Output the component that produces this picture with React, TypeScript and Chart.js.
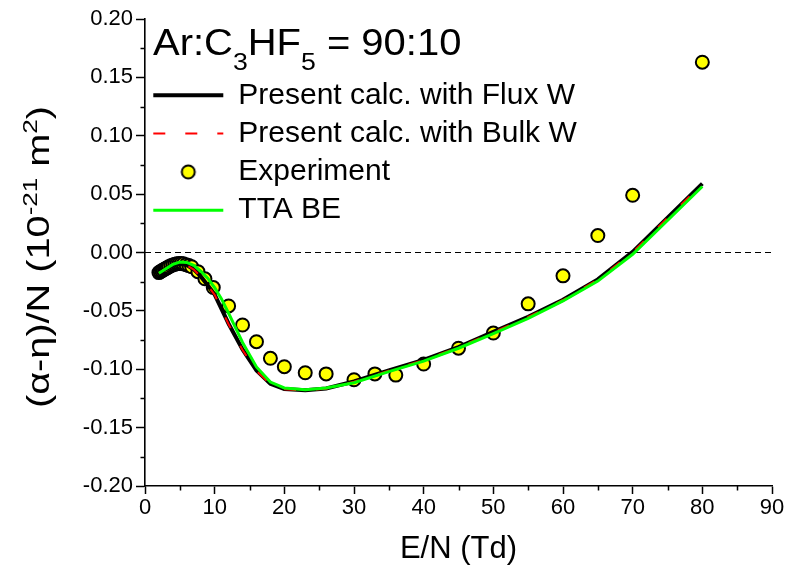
import React, { useEffect, useRef } from 'react';
import { Chart, registerables } from 'chart.js';

Chart.register(...registerables);

// ---- data ----
const calcEN = [2, 3, 4, 5, 6, 7, 8, 9, 10, 12, 14, 16, 18, 20, 23, 26, 30, 35, 40, 45, 50, 55, 60, 65, 70, 80];
const fluxW = [-0.0175, -0.0135, -0.0108, -0.0098, -0.0108, -0.0145, -0.0205, -0.028, -0.036, -0.061, -0.083, -0.101, -0.1125, -0.117, -0.118, -0.1165, -0.1105, -0.101, -0.092, -0.081, -0.068, -0.055, -0.0405, -0.023, 0.0005, 0.059];
const bulkW = [-0.0176, -0.0137, -0.011, -0.01, -0.011, -0.0147, -0.0207, -0.0283, -0.0363, -0.0615, -0.0835, -0.1015, -0.113, -0.1172, -0.1182, -0.1167, -0.1107, -0.1012, -0.0922, -0.0812, -0.0682, -0.0552, -0.0407, -0.0232, 0.0003, 0.0588];

const ttaEN = [2, 3, 4, 5, 6, 7, 8, 9, 10, 11, 12, 14, 16, 18, 20, 23, 26, 30, 35, 40, 45, 50, 55, 60, 65, 70, 80];
const ttaBE = [-0.0178, -0.014, -0.0102, -0.0082, -0.0085, -0.011, -0.016, -0.022, -0.03, -0.04, -0.052, -0.077, -0.098, -0.111, -0.116, -0.1175, -0.116, -0.1115, -0.102, -0.093, -0.082, -0.0695, -0.0565, -0.0415, -0.0245, -0.0015, 0.0565];

const expEN = [2.0, 2.2, 2.4, 2.6, 2.8, 3.0, 3.2, 3.4, 3.7, 4.0, 4.3, 4.6, 4.9, 5.2, 5.5, 5.9, 6.3, 6.7, 7.6, 8.6, 9.8, 12, 14, 16, 18, 20, 23, 26, 30, 33, 36, 40, 45, 50, 55, 60, 65, 70, 80];
const expVal = [-0.0172, -0.0165, -0.0157, -0.015, -0.0143, -0.0136, -0.013, -0.0123, -0.0114, -0.0106, -0.01, -0.0096, -0.0094, -0.0094, -0.0097, -0.0104, -0.0112, -0.0122, -0.0164, -0.0225, -0.03, -0.0458, -0.0621, -0.0764, -0.0906, -0.0978, -0.103, -0.104, -0.109, -0.104, -0.105, -0.0955, -0.082, -0.069, -0.044, -0.02, 0.0145, 0.049, 0.163];

const zeroEN = [0, 90];
const zeroVal = [0, 0];

const seriesNames = ['Present calc. with Flux W', 'Present calc. with Bulk W', 'Experiment', 'TTA BE'];

const FONT = "'Liberation Sans', Arial, sans-serif";

const toXY = (xs: number[], ys: number[]) => xs.map((x, i) => ({ x, y: ys[i] }));

function makeExpIcon() {
  const c = document.createElement('canvas');
  c.width = 18;
  c.height = 18;
  const g = c.getContext('2d')!;
  g.beginPath();
  g.arc(9, 9, 6.5, 0, Math.PI * 2);
  g.fillStyle = '#ffff00';
  g.fill();
  g.lineWidth = 2;
  g.strokeStyle = '#000';
  g.stroke();
  return c;
}

const decorPlugin = {
  id: 'decor',
  afterDraw(chart: any) {
    const ctx = chart.ctx as CanvasRenderingContext2D;
    const xs = chart.scales.x;
    const ys = chart.scales.y;
    const area = chart.chartArea;
    ctx.save();
    // minor ticks
    ctx.strokeStyle = '#000';
    ctx.lineWidth = 1.5;
    ctx.beginPath();
    for (let v = 5; v < 90; v += 10) {
      const px = Math.round(xs.getPixelForValue(v)) + 0.5;
      ctx.moveTo(px, area.bottom);
      ctx.lineTo(px, area.bottom + 4.5);
    }
    for (let k = 0; k < 8; k++) {
      const v = -0.175 + k * 0.05;
      const py = Math.round(ys.getPixelForValue(v)) + 0.5;
      ctx.moveTo(area.left, py);
      ctx.lineTo(area.left - 4.5, py);
    }
    ctx.stroke();

    // title with subscripts
    ctx.fillStyle = '#000';
    ctx.textBaseline = 'alphabetic';
    ctx.textAlign = 'left';
    ctx.save();
    ctx.translate(153, 55);
    ctx.scale(1.11, 1);
    const mainF = `36px ${FONT}`;
    const subF = `24px ${FONT}`;
    const parts: [string, boolean][] = [['Ar:C', false], ['3', true], ['HF', false], ['5', true], [' = 90:10', false]];
    let x = 0;
    for (const [t, sub] of parts) {
      ctx.font = sub ? subF : mainF;
      ctx.fillText(t, x, sub ? 15 : 0);
      x += ctx.measureText(t).width;
    }
    ctx.restore();

    // y axis title with superscripts
    const yParts: [string, boolean][] = [['(\u03B1-\u03B7)/N (10', false], ['-21', true], [' m', false], ['2', true], [')', false]];
    const yMain = `32px ${FONT}`;
    const ySup = `21px ${FONT}`;
    let total = 0;
    for (const [t, sup] of yParts) {
      ctx.font = sup ? ySup : yMain;
      total += ctx.measureText(t).width;
    }
    ctx.translate(49, 257);
    ctx.rotate(-Math.PI / 2);
    ctx.scale(1.24, 1);
    let tx = -total / 2;
    for (const [t, sup] of yParts) {
      ctx.font = sup ? ySup : yMain;
      ctx.fillText(t, tx, sup ? -12 : 0);
      tx += ctx.measureText(t).width;
    }
    ctx.restore();
  },
};

export default function App() {
  const ref = useRef<HTMLCanvasElement | null>(null);

  useEffect(() => {
    if (!ref.current) return;
    const expIcon = makeExpIcon();
    const legendStyle: Record<number, any> = {
      0: { pointStyle: 'line', lineWidth: 4, strokeStyle: '#000000', lineDash: [] },
      1: { pointStyle: 'line', lineWidth: 2, strokeStyle: '#ff0000', lineDash: [12, 20] },
      2: { pointStyle: expIcon, lineWidth: 0, lineDash: [] },
      3: { pointStyle: 'line', lineWidth: 3, strokeStyle: '#00ff00', lineDash: [] },
    };
    const chart = new Chart(ref.current, {
      type: 'scatter',
      data: {
        datasets: [
          {
            label: seriesNames[0],
            data: toXY(calcEN, fluxW),
            showLine: true,
            borderColor: '#000000',
            backgroundColor: '#000000',
            borderWidth: 4,
            pointRadius: 0,
            tension: 0,
            order: 2,
          },
          {
            label: seriesNames[1],
            data: toXY(calcEN, bulkW),
            showLine: true,
            borderColor: '#ff0000',
            backgroundColor: '#ff0000',
            borderWidth: 2,
            borderDash: [12, 20],
            pointRadius: 0,
            tension: 0,
            order: 1,
          },
          {
            label: seriesNames[2],
            data: toXY(expEN, expVal),
            showLine: false,
            pointRadius: 6.5,
            pointBorderWidth: 2,
            borderColor: '#000000',
            backgroundColor: '#ffff00',
            pointBackgroundColor: '#ffff00',
            pointBorderColor: '#000000',
            order: 3,
          },
          {
            label: seriesNames[3],
            data: toXY(ttaEN, ttaBE),
            showLine: true,
            borderColor: '#00ff00',
            backgroundColor: '#00ff00',
            borderWidth: 3,
            pointRadius: 0,
            tension: 0,
            order: 0,
          },
          {
            label: 'zero',
            data: toXY(zeroEN, zeroVal),
            showLine: true,
            borderColor: '#000000',
            borderWidth: 1,
            borderDash: [6, 4],
            pointRadius: 0,
            order: 5,
          },
        ],
      } as any,
      options: {
        animation: false,
        responsive: false,
        maintainAspectRatio: false,
        events: [],
        layout: { padding: { top: 19, right: 19, left: 0, bottom: 0 } },
        font: { family: FONT },
        scales: {
          x: {
            type: 'linear',
            min: 0,
            max: 90,
            ticks: {
              stepSize: 10,
              color: '#000',
              font: { family: FONT, size: 22 },
              padding: 1,
              maxRotation: 0,
              autoSkip: false,
            },
            grid: {
              display: true,
              drawOnChartArea: false,
              drawTicks: true,
              tickLength: 8,
              tickWidth: 1.5,
              tickColor: '#000',
            },
            border: { display: true, color: '#000', width: 1.6 },
            title: {
              display: true,
              text: 'E/N (Td)',
              color: '#000',
              font: { family: FONT, size: 31 },
              padding: { top: 0, bottom: 11 },
            },
            afterFit: (s: any) => {
              s.height = 93;
            },
          },
          y: {
            type: 'linear',
            min: -0.2,
            max: 0.2,
            ticks: {
              stepSize: 0.05,
              color: '#000',
              font: { family: FONT, size: 22 },
              padding: 3,
              callback: (v: any) => Number(v).toFixed(2),
            },
            grid: {
              display: true,
              drawOnChartArea: false,
              drawTicks: true,
              tickLength: 9,
              tickWidth: 1.5,
              tickColor: '#000',
            },
            border: { display: true, color: '#000', width: 1.6 },
            afterFit: (s: any) => {
              s.width = 145;
            },
          },
        },
        plugins: {
          tooltip: { enabled: false },
          title: { display: false },
          legend: {
            display: true,
            position: 'chartArea',
            align: 'start',
            title: {
              display: true,
              text: ' ',
              font: { family: FONT, size: 20, lineHeight: 1 },
              padding: { top: 52, bottom: 0 },
            },
            labels: {
              usePointStyle: true,
              pointStyleWidth: 70,
              padding: 8.3,
              color: '#000',
              font: { family: FONT, size: 30 },
              sort: (a: any, b: any) => a.datasetIndex - b.datasetIndex,
              generateLabels: (ch: any) => {
                const items = (Chart.defaults.plugins.legend.labels as any).generateLabels(ch);
                return items
                  .filter((it: any) => it.datasetIndex !== 4)
                  .map((it: any) => ({ ...it, ...legendStyle[it.datasetIndex] }));
              },
            },
          },
        },
      } as any,
      plugins: [decorPlugin],
    });
    return () => chart.destroy();
  }, []);

  return (
    <div style={{ position: 'fixed', left: 0, top: 0, width: 791, height: 579, background: '#fff' }}>
      <canvas ref={ref} width={791} height={579} style={{ display: 'block', width: 791, height: 579 }} />
    </div>
  );
}
